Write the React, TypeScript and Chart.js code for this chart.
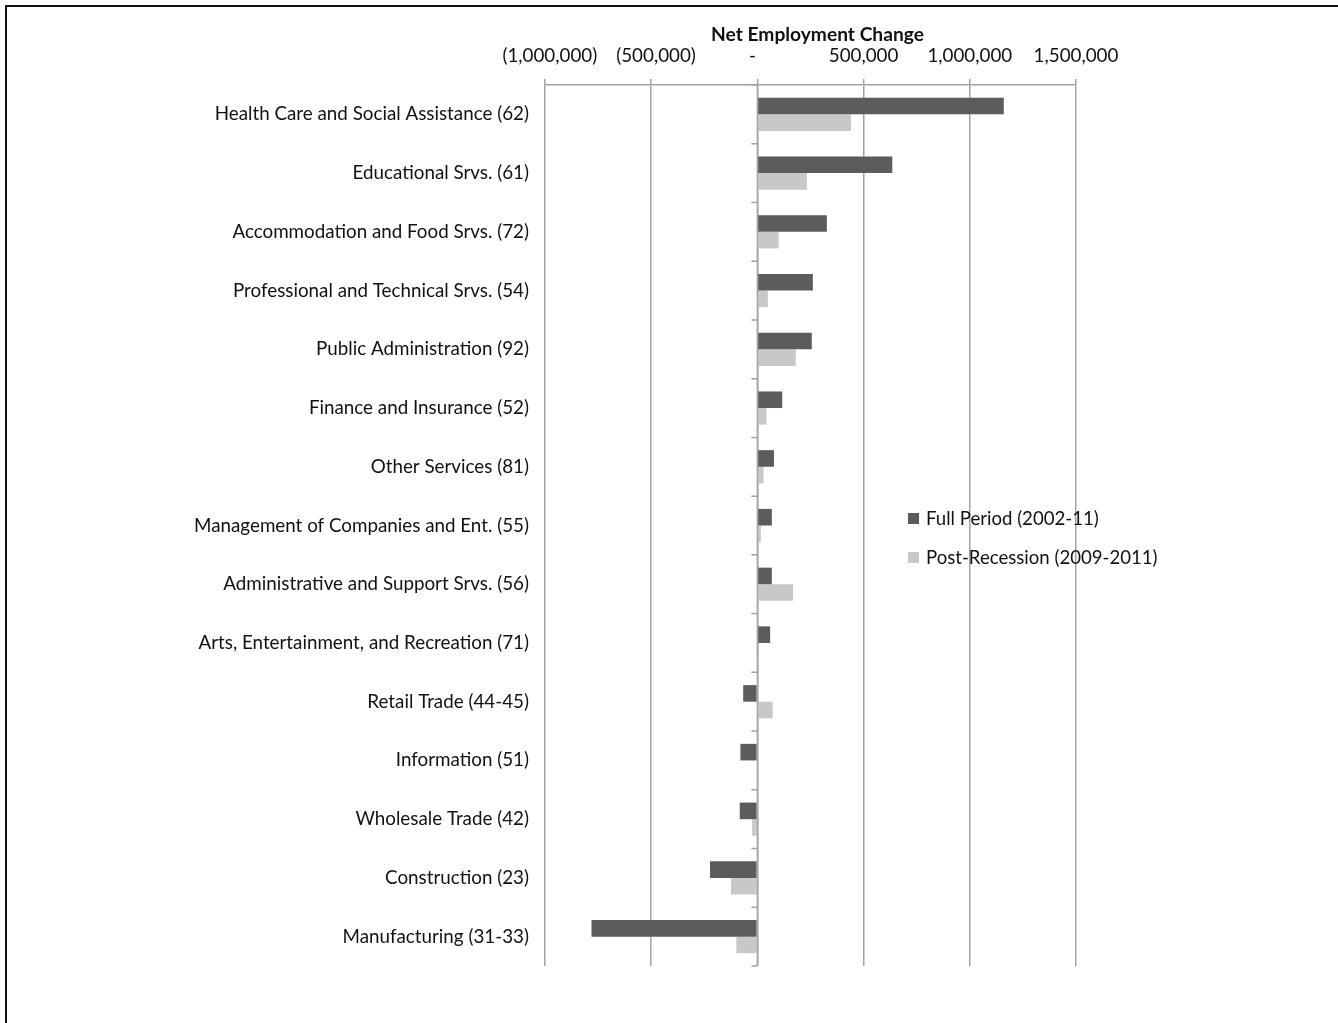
import React, { useEffect, useRef } from "react";
import { Chart, registerables } from "chart.js";

Chart.register(...registerables);

const categories = [
  "Health Care and Social Assistance (62)",
  "Educational Srvs. (61)",
  "Accommodation and Food Srvs. (72)",
  "Professional and Technical Srvs. (54)",
  "Public Administration (92)",
  "Finance and Insurance (52)",
  "Other Services (81)",
  "Management of Companies and Ent. (55)",
  "Administrative and Support Srvs. (56)",
  "Arts, Entertainment, and Recreation (71)",
  "Retail Trade (44-45)",
  "Information (51)",
  "Wholesale Trade (42)",
  "Construction (23)",
  "Manufacturing (31-33)",
];

const fullPeriod = [
  1160000, 635000, 327000, 261000, 256000, 117000, 78000, 68000, 68000, 60000,
  -67000, -80000, -83000, -223000, -781000,
];

const postRecession = [
  441000, 233000, 100000, 49000, 181000, 43000, 29000, 16000, 168000, 8000,
  72000, 0, -25000, -124000, -99000,
];

const seriesNames = ["Full Period (2002-11)", "Post-Recession (2009-2011)"];
const seriesColors = ["#5b5c5e", "#c8c8c9"];

const axisTitle = "Net Employment Change";
const xMin = -1000000;
const xMax = 1500000;
const xStep = 500000;

const FONT = "Lato, 'Open Sans', sans-serif";
const TEXT = "#111";
const GRID = "#a3a3a3";

function formatTick(v: number): string {
  if (v === 0) return "-  ";
  const s = Math.abs(v).toLocaleString("en-US");
  return v < 0 ? `  (${s})` : s;
}

const zeroAxisPlugin = {
  id: "zeroAxis",
  afterDatasetsDraw(chart: any) {
    const { ctx, scales } = chart;
    const x = scales.x;
    const y = scales.y;
    const x0 = x.getPixelForValue(0);
    const n = categories.length;
    const step = (y.bottom - y.top) / n;
    ctx.save();
    ctx.strokeStyle = GRID;
    ctx.lineWidth = 1.5;
    ctx.beginPath();
    ctx.moveTo(x0, y.top);
    ctx.lineTo(x0, y.bottom);
    for (let i = 0; i <= n; i++) {
      const yy = y.top + i * step;
      ctx.moveTo(x0 - 6, yy);
      ctx.lineTo(x0, yy);
    }
    ctx.stroke();
    ctx.restore();
  },
};

const legendPlugin = {
  id: "customLegend",
  afterDraw(chart: any) {
    const { ctx } = chart;
    const lx = 908;
    const ly = 518.5;
    const gap = 39;
    ctx.save();
    ctx.font = `18.6px ${FONT}`;
    ctx.textBaseline = "middle";
    ctx.textAlign = "left";
    chart.data.datasets.forEach((ds: any, i: number) => {
      const cy = ly + i * gap;
      ctx.fillStyle = ds.backgroundColor;
      ctx.fillRect(lx, cy - 5.5, 11, 11);
      ctx.fillStyle = TEXT;
      ctx.fillText(ds.label, lx + 18, cy);
    });
    ctx.restore();
  },
};

export default function App() {
  const ref = useRef<HTMLCanvasElement | null>(null);

  useEffect(() => {
    if (!ref.current) return;
    const chart = new Chart(ref.current, {
      type: "bar",
      data: {
        labels: categories,
        datasets: [
          {
            label: seriesNames[0],
            data: fullPeriod,
            backgroundColor: seriesColors[0],
            borderWidth: 0,
            categoryPercentage: 0.565,
            barPercentage: 1,
          },
          {
            label: seriesNames[1],
            data: postRecession,
            backgroundColor: seriesColors[1],
            borderWidth: 0,
            categoryPercentage: 0.565,
            barPercentage: 1,
          },
        ],
      },
      options: {
        indexAxis: "y",
        responsive: false,
        animation: false,
        devicePixelRatio: 1,
        layout: { padding: { left: 0, right: 262, top: 0, bottom: 57 } },
        plugins: {
          legend: { display: false },
          tooltip: { enabled: false },
        },
        scales: {
          x: {
            position: "top",
            min: xMin,
            max: xMax,
            afterFit: (s: any) => {
              s.height = 85;
            },
            ticks: {
              stepSize: xStep,
              padding: 11.5,
              maxRotation: 0,
              minRotation: 0,
              autoSkip: false,
              color: TEXT,
              font: { family: FONT, size: 18.8 },
              callback: (v: any) => formatTick(Number(v)),
            },
            grid: {
              color: GRID,
              lineWidth: 1.5,
              tickLength: 6,
              drawTicks: true,
            },
            border: { display: true, color: GRID, width: 1.5 },
            title: {
              display: true,
              text: "   " + axisTitle,
              color: TEXT,
              font: { family: FONT, size: 19.2, weight: "bold" },
              padding: { top: 23.5, bottom: 0 },
            },
          },
          y: {
            position: "left",
            afterFit: (s: any) => {
              s.width = 545;
            },
            ticks: {
              padding: 16,
              autoSkip: false,
              color: TEXT,
              font: { family: FONT, size: 18.8 },
            },
            grid: { display: false, drawTicks: false },
            border: { display: false },
          },
        },
      },
      plugins: [zeroAxisPlugin, legendPlugin],
    } as any);
    return () => chart.destroy();
  }, []);

  return (
    <div
      style={{
        position: "fixed",
        left: 0,
        top: 0,
        width: 1338,
        height: 1023,
        background: "#fff",
        overflow: "hidden",
      }}
    >
      <div
        style={{
          position: "absolute",
          left: 5,
          top: 5,
          width: 2000,
          height: 2000,
          borderLeft: "2px solid #111",
          borderTop: "2px solid #111",
        }}
      />
      <canvas
        ref={ref}
        width={1338}
        height={1023}
        style={{ position: "absolute", left: 0, top: 0, width: 1338, height: 1023 }}
      />
    </div>
  );
}
